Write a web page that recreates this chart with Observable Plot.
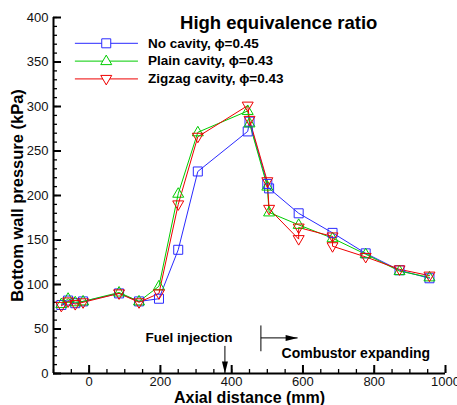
<!DOCTYPE html>
<html><head><meta charset="utf-8">
<script src="https://cdn.jsdelivr.net/npm/d3@7"></script>
<script src="https://cdn.jsdelivr.net/npm/@observablehq/plot@0.6"></script>
<style>
body{margin:0;background:#fff}
#chart svg{font-family:"Liberation Sans",Arial,sans-serif}
</style>
</head><body><div id="chart"></div>
<script>
// ---- data ----
const seriesNames = ["No cavity, \u03D5=0.45", "Plain cavity, \u03D5=0.43", "Zigzag cavity, \u03D5=0.43"];
const seriesColors = ["#2a2aff", "#00cc00", "#ee0000"];
const noCavityX = [-78, -59, -39, -17, 84, 140, 196, 250, 305, 445, 450, 500, 505, 588, 683, 776, 871, 955];
const noCavityY = [77, 82, 79, 81, 90, 81, 84, 139, 227, 272, 283, 213, 208, 180, 158, 135, 116, 107];
const plainX = [-78, -59, -39, -17, 84, 140, 196, 250, 305, 445, 450, 500, 505, 588, 683, 776, 871, 955];
const plainY = [78, 84, 80, 81, 91, 81, 98, 202, 271, 295, 281, 210, 181, 167, 152, 134, 115, 108];
const zigzagX = [-78, -59, -39, -17, 84, 140, 196, 250, 305, 445, 450, 500, 505, 588, 588, 683, 683, 776, 871, 955];
const zigzagY = [76, 81, 78, 80, 90, 80, 90, 190, 266, 301, 285, 216, 185, 151, 164, 154, 143, 131, 117, 110];
const xMajorTicks = [0, 200, 400, 600, 800, 1000];
const xMinorTicks = d3.range(-100, 1001, 50);
const yMajorTicks = [0, 50, 100, 150, 200, 250, 300, 350, 400];
const yMinorTicks = d3.range(0, 401, 10);
const titleText = "High equivalence ratio";
const xLabel = "Axial distance (mm)";
const yLabel = "Bottom wall pressure (kPa)";
// annotations (data units)
const fuelText = "Fuel injection", fuelTextX = 280, fuelTextY = 40;
const fuelArrowX = 381, fuelArrowY1 = 31, fuelArrowY2 = 0;
const combText = "Combustor expanding", combTextX = 540, combTextY = 23;
const combBarX = 482, combBarY1 = 25, combBarY2 = 54, combArrowY = 40, combArrowX2 = 585;
// legend placement (data units)
const legendX1 = -40, legendX2 = 137, legendMarkX = 48, legendTextX = 165;
const legendY = [371, 351, 331];

// ---- build ----
const series = [[noCavityX, noCavityY], [plainX, plainY], [zigzagX, zigzagY]];
const rows = series.flatMap(([xs, ys], i) => xs.map((x, j) => ({x, y: ys[j], s: seriesNames[i]})));

const sym = {
  square: {draw(c) { c.moveTo(-4.5, -4.5); c.lineTo(4.5, -4.5); c.lineTo(4.5, 4.5); c.lineTo(-4.5, 4.5); c.closePath(); }},
  up: {draw(c) { c.moveTo(0, -6); c.lineTo(5.5, 3.5); c.lineTo(-5.5, 3.5); c.closePath(); }},
  down: {draw(c) { c.moveTo(0, 6); c.lineTo(5.5, -3.5); c.lineTo(-5.5, -3.5); c.closePath(); }},
  headDown: {draw(c) { c.moveTo(0, 0); c.lineTo(3, -12); c.lineTo(-3, -12); c.closePath(); }},
  headRight: {draw(c) { c.moveTo(0, 0); c.lineTo(-12, -3); c.lineTo(-12, 3); c.closePath(); }}
};
const symbols = [sym.square, sym.up, sym.down];

const legendRows = seriesNames.map((s, i) => ({s, i, y: legendY[i]}));

const marks = [
  // axis lines
  Plot.ruleY([0], {x1: -100, x2: 1000, stroke: "black", strokeWidth: 2}),
  Plot.ruleX([-100], {y1: 0, y2: 400, stroke: "black", strokeWidth: 2}),
  // inward ticks
  Plot.axisX(xMinorTicks, {tickSize: 4, dy: -4, tickFormat: () => "", strokeWidth: 1.3, label: null}),
  Plot.axisX(xMajorTicks, {tickSize: 8, dy: -8, tickFormat: () => "", strokeWidth: 2, label: null}),
  Plot.axisY(yMinorTicks, {tickSize: 4, dx: 4, tickFormat: () => "", strokeWidth: 1.3, label: null}),
  Plot.axisY(yMajorTicks, {tickSize: 8, dx: 8, tickFormat: () => "", strokeWidth: 2, label: null}),
  // tick labels
  Plot.axisX(xMajorTicks, {tickSize: 0, tickPadding: 3, tickFormat: d => String(d), fontSize: 13, fill: "#111", label: null}),
  Plot.axisY(yMajorTicks, {tickSize: 0, tickPadding: 5, tickFormat: d => String(d), fontSize: 13, fill: "#111", label: null}),
  // axis titles
  Plot.text([xLabel], {frameAnchor: "bottom", dy: 24, lineAnchor: "middle", textAnchor: "middle", text: d => d, fontSize: 16, fontWeight: "bold", fill: "black"}),
  Plot.text([yLabel], {frameAnchor: "left", dx: -36, rotate: -90, lineAnchor: "middle", textAnchor: "middle", text: d => d, fontSize: 16.5, fontWeight: "bold", fill: "black"}),
  // data
  ...seriesNames.map((name, i) => Plot.line(rows.filter(r => r.s === name), {x: "x", y: "y", stroke: seriesColors[i], strokeWidth: 1})),
  ...seriesNames.map((name, i) => Plot.dot(rows.filter(r => r.s === name), {x: "x", y: "y", symbol: symbols[i], stroke: seriesColors[i], fill: "none", strokeWidth: 1})),
  // title
  Plot.text([titleText], {x: 532, y: 394, text: d => d, fontSize: 18.5, fontWeight: "bold", fill: "black"}),
  // legend
  Plot.link(legendRows, {x1: legendX1, x2: legendX2, y1: "y", y2: "y", stroke: d => seriesColors[d.i], strokeWidth: 1}),
  ...legendRows.map(d => Plot.dot([d], {x: legendMarkX, y: "y", symbol: symbols[d.i], stroke: seriesColors[d.i], fill: "white", strokeWidth: 1})),
  Plot.text(legendRows, {x: legendTextX, y: "y", text: "s", textAnchor: "start", fontSize: 13.5, fontWeight: "bold", fill: "black"}),
  // annotations
  Plot.text([fuelText], {x: fuelTextX, y: fuelTextY, text: d => d, fontSize: 13.5, fontWeight: "bold", fill: "black"}),
  Plot.link([0], {x1: fuelArrowX, x2: fuelArrowX, y1: fuelArrowY1, y2: fuelArrowY2, stroke: "black", strokeWidth: 1}),
  Plot.dot([0], {x: fuelArrowX, y: fuelArrowY2, symbol: sym.headDown, fill: "black", stroke: "none"}),
  Plot.text([combText], {x: combTextX, y: combTextY, text: d => d, textAnchor: "start", fontSize: 14, fontWeight: "bold", fill: "black"}),
  Plot.link([0], {x1: combBarX, x2: combBarX, y1: combBarY1, y2: combBarY2, stroke: "black", strokeWidth: 1}),
  Plot.link([0], {x1: combBarX, x2: combArrowX2, y1: combArrowY, y2: combArrowY, stroke: "black", strokeWidth: 1}),
  Plot.dot([0], {x: combArrowX2, y: combArrowY, symbol: sym.headRight, fill: "black", stroke: "none"})
];

const chart = Plot.plot({
  width: 457, height: 405,
  marginLeft: 53, marginRight: 12, marginTop: 17, marginBottom: 32,
  x: {domain: [-100, 1000]},
  y: {domain: [0, 400]},
  style: {background: "white", overflow: "visible", fontFamily: "'Liberation Sans', Arial, sans-serif"},
  marks
});
document.getElementById("chart").appendChild(chart);
</script>
</body></html>
